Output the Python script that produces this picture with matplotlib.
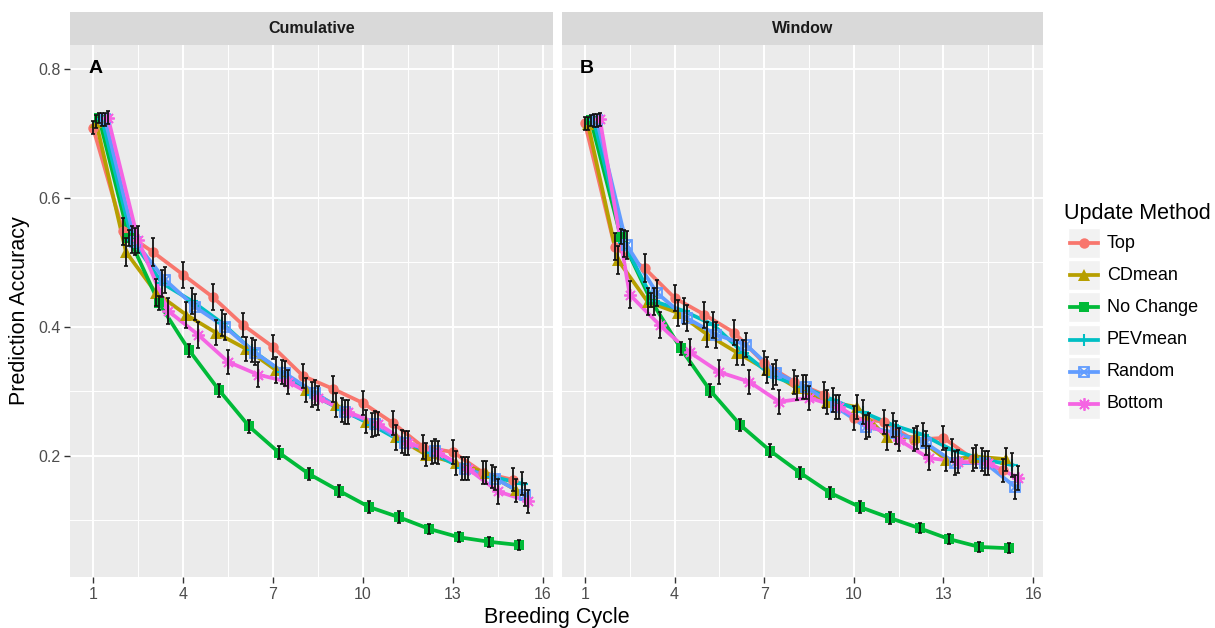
import matplotlib
matplotlib.use('Agg')
import matplotlib.pyplot as plt
from matplotlib.patches import Rectangle

plt.rcParams['font.family'] = ['Liberation Sans', 'DejaVu Sans']

# ---------------- data ----------------
cycles = list(range(1, 16))
methods = ['Top', 'CDmean', 'No Change', 'PEVmean', 'Random', 'Bottom']
panels = ['Cumulative', 'Window']
panel_letters = ['A', 'B']
x_ticks = [1, 4, 7, 10, 13, 16]
y_ticks = [0.2, 0.4, 0.6, 0.8]

top_cum = [0.709, 0.548, 0.516, 0.481, 0.446, 0.403, 0.369, 0.324, 0.304, 0.282, 0.251, 0.214, 0.206, 0.174, 0.163]
cdmean_cum = [0.718, 0.516, 0.453, 0.419, 0.391, 0.366, 0.333, 0.302, 0.279, 0.253, 0.229, 0.202, 0.189, 0.174, 0.147]
nochange_cum = [0.724, 0.538, 0.437, 0.364, 0.302, 0.246, 0.205, 0.172, 0.146, 0.121, 0.105, 0.087, 0.074, 0.067, 0.062]
pevmean_cum = [0.722, 0.535, 0.468, 0.440, 0.406, 0.364, 0.330, 0.295, 0.271, 0.248, 0.222, 0.205, 0.181, 0.168, 0.157]
random_cum = [0.722, 0.532, 0.473, 0.431, 0.400, 0.360, 0.328, 0.298, 0.268, 0.250, 0.220, 0.208, 0.180, 0.165, 0.140]
bottom_cum = [0.724, 0.535, 0.425, 0.388, 0.346, 0.326, 0.315, 0.290, 0.268, 0.250, 0.220, 0.205, 0.180, 0.145, 0.130]

top_win = [0.716, 0.524, 0.491, 0.445, 0.419, 0.391, 0.344, 0.315, 0.295, 0.259, 0.253, 0.225, 0.228, 0.195, 0.178]
cdmean_win = [0.715, 0.504, 0.439, 0.422, 0.388, 0.360, 0.333, 0.305, 0.284, 0.276, 0.229, 0.229, 0.194, 0.199, 0.195]
nochange_win = [0.720, 0.540, 0.442, 0.367, 0.301, 0.248, 0.208, 0.174, 0.143, 0.121, 0.104, 0.088, 0.071, 0.059, 0.057]
pevmean_win = [0.720, 0.530, 0.440, 0.425, 0.403, 0.360, 0.323, 0.307, 0.287, 0.268, 0.248, 0.233, 0.209, 0.195, 0.186]
random_win = [0.720, 0.527, 0.453, 0.414, 0.388, 0.372, 0.329, 0.307, 0.276, 0.245, 0.236, 0.220, 0.189, 0.189, 0.152]
bottom_win = [0.722, 0.450, 0.403, 0.361, 0.330, 0.315, 0.284, 0.290, 0.276, 0.248, 0.225, 0.197, 0.191, 0.189, 0.166]

# error-bar half widths (read approximately)
err_top = [0.010, 0.021, 0.022, 0.020, 0.020, 0.019, 0.019, 0.019, 0.020, 0.019, 0.019, 0.018, 0.019, 0.018, 0.018]
err_cdmean = [0.010, 0.022, 0.021, 0.020, 0.019, 0.019, 0.020, 0.019, 0.019, 0.018, 0.019, 0.018, 0.018, 0.018, 0.018]
err_nochange = [0.008, 0.012, 0.011, 0.010, 0.010, 0.010, 0.010, 0.009, 0.009, 0.009, 0.009, 0.008, 0.008, 0.008, 0.008]
err_pevmean = [0.010, 0.021, 0.021, 0.020, 0.020, 0.019, 0.019, 0.019, 0.019, 0.019, 0.018, 0.018, 0.018, 0.018, 0.018]
err_random = [0.010, 0.021, 0.020, 0.020, 0.020, 0.019, 0.019, 0.019, 0.019, 0.019, 0.018, 0.019, 0.018, 0.018, 0.018]
err_bottom = [0.010, 0.021, 0.020, 0.020, 0.019, 0.019, 0.019, 0.018, 0.019, 0.018, 0.018, 0.018, 0.018, 0.019, 0.018]

values = {
    'Cumulative': [top_cum, cdmean_cum, nochange_cum, pevmean_cum, random_cum, bottom_cum],
    'Window': [top_win, cdmean_win, nochange_win, pevmean_win, random_win, bottom_win],
}
errors = [err_top, err_cdmean, err_nochange, err_pevmean, err_random, err_bottom]

# ---------------- style ----------------
colors = ['#F8766D', '#B79F00', '#00BA38', '#00BFC4', '#619CFF', '#F564E3']
dodge = [0.0, 0.1, 0.2, 0.3, 0.4, 0.5]
W, H = 1215, 628
LW = 2.7


def draw_marker(ax, x, y, k, color, z=3):
    if k == 0:
        ax.plot(x, y, 'o', color=color, ms=7.5, mew=0, zorder=z)
    elif k == 1:
        ax.plot(x, y, '^', color=color, ms=8.5, mew=0, zorder=z)
    elif k == 2:
        ax.plot(x, y, 's', color=color, ms=7, mew=0, zorder=z)
    elif k == 3:
        ax.plot(x, y, '+', color=color, ms=9, mew=1.5, zorder=z)
    elif k == 4:
        ax.plot(x, y, 's', color=color, ms=7.5, mew=1.3, mfc='none', zorder=z)
        ax.plot(x, y, 'x', color=color, ms=6.5, mew=1.3, zorder=z)
    else:
        ax.plot(x, y, marker=(8, 2, 0), ls='none', color=color, ms=9, mew=1.3, zorder=z)


fig = plt.figure(figsize=(W / 100, H / 100), dpi=100)
fig.patch.set_facecolor('white')

panel_px = [(70, 553), (562, 1043)]
top_px, bot_px = 45, 577

for p, (panel, letter) in enumerate(zip(panels, panel_letters)):
    x0, x1 = panel_px[p]
    ax = fig.add_axes([x0 / W, (H - bot_px) / H, (x1 - x0) / W, (bot_px - top_px) / H])
    ax.set_facecolor('#EBEBEB')
    for s in ax.spines.values():
        s.set_visible(False)
    ax.set_xlim(0.233, 16.33)
    ax.set_ylim(0.0124, 0.837)
    ax.set_xticks(x_ticks)
    ax.set_xticks([2.5, 5.5, 8.5, 11.5, 14.5], minor=True)
    ax.set_yticks(y_ticks)
    ax.set_yticks([0.1, 0.3, 0.5, 0.7], minor=True)
    ax.set_xticklabels([str(t) for t in x_ticks])
    ax.grid(which='major', color='white', lw=1.4)
    ax.grid(which='minor', color='white', lw=0.7)
    ax.set_axisbelow(True)
    ax.tick_params(which='minor', length=0)
    ax.tick_params(which='major', length=4, width=1, color='#333333',
                   labelcolor='#4D4D4D', labelsize=11.5, pad=3)
    if p == 0:
        ax.set_yticklabels(['0.2', '0.4', '0.6', '0.8'])
    else:
        ax.tick_params(axis='y', which='both', length=0, labelleft=False)

    for k, m in enumerate(methods):
        xs = [c + dodge[k] for c in cycles]
        ys = values[panel][k]
        ax.plot(xs, ys, '-', color=colors[k], lw=LW, zorder=2 + k * 0.01)
        draw_marker(ax, xs, ys, k, colors[k], z=3 + k * 0.01)
        ax.errorbar(xs, ys, yerr=errors[k], fmt='none', ecolor='#111111',
                    elinewidth=1.3, capsize=1.3, capthick=1.2, zorder=4)

    ax.text(1.07, 0.8, letter, fontsize=14, fontweight='bold', ha='center',
            va='center', color='black')

    # strip
    sax = fig.add_axes([x0 / W, (H - top_px) / H, (x1 - x0) / W, 33 / H])
    sax.set_facecolor('#D9D9D9')
    sax.set_xticks([])
    sax.set_yticks([])
    for s in sax.spines.values():
        s.set_visible(False)
    sax.text(0.5, 0.5, panel, ha='center', va='center', fontsize=11.5,
             fontweight='bold', color='#1A1A1A', transform=sax.transAxes)

# axis titles
fig.text(557 / W, 1 - 617 / H, 'Breeding Cycle', ha='center', va='center', fontsize=15.5)
fig.text(20 / W, 1 - 311 / H, 'Prediction Accuracy', ha='center', va='center',
         rotation=90, fontsize=15.5)

# legend (drawn in pixel coordinates)
lax = fig.add_axes([1055 / W, (H - 425) / H, 160 / W, 230 / H])
lax.set_xlim(1055, 1215)
lax.set_ylim(425, 195)
lax.axis('off')
lax.text(1064, 213, 'Update Method', ha='left', va='center', fontsize=15.5)
for k, m in enumerate(methods):
    yc = 243 + 32.2 * k
    lax.add_patch(Rectangle((1068, yc - 15), 32, 30, facecolor='#F2F2F2',
                            edgecolor='white', lw=1))
    lax.plot([1070, 1098], [yc, yc], '-', color=colors[k], lw=LW)
    draw_marker(lax, [1084], [yc], k, colors[k])
    lax.text(1107, yc, m, ha='left', va='center', fontsize=13)

fig.savefig('out.png', dpi=100, facecolor='white')
